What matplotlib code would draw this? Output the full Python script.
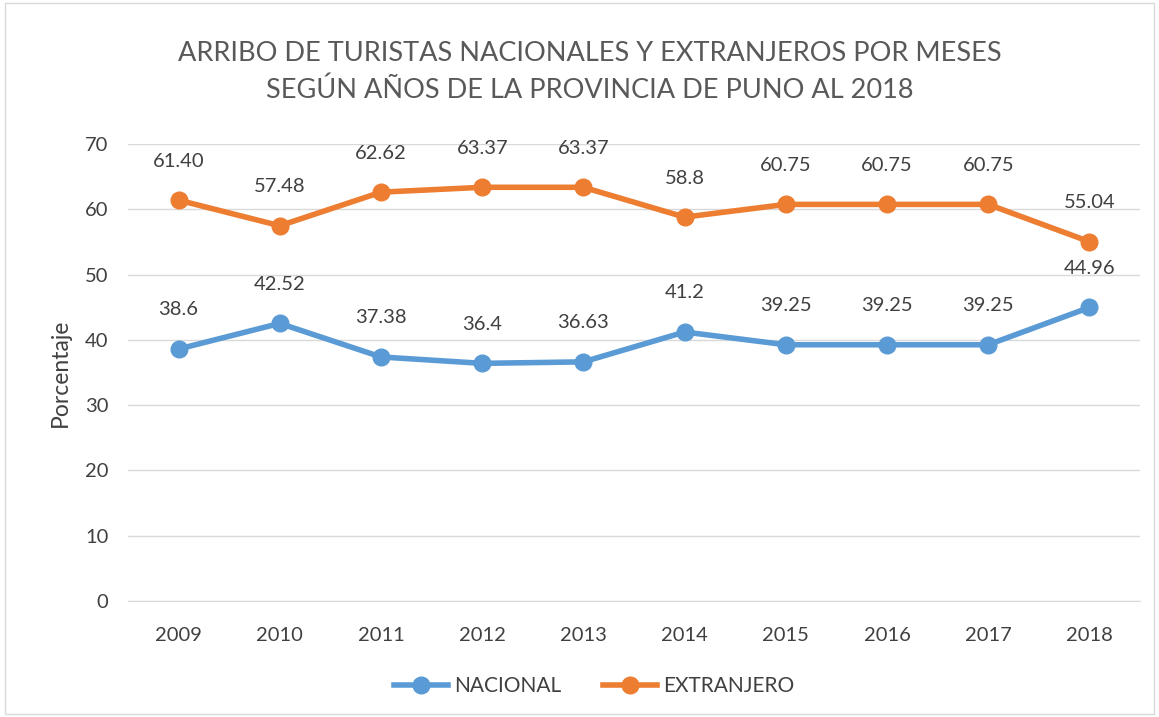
import matplotlib.pyplot as plt
from matplotlib.patches import Rectangle

years = ['2009', '2010', '2011', '2012', '2013', '2014', '2015', '2016', '2017', '2018']
nacional = [38.6, 42.52, 37.38, 36.4, 36.63, 41.2, 39.25, 39.25, 39.25, 44.96]
extranjero = [61.40, 57.48, 62.62, 63.37, 63.37, 58.8, 60.75, 60.75, 60.75, 55.04]
nac_labels = ['38.6', '42.52', '37.38', '36.4', '36.63', '41.2', '39.25', '39.25', '39.25', '44.96']
ext_labels = ['61.40', '57.48', '62.62', '63.37', '63.37', '58.8', '60.75', '60.75', '60.75', '55.04']

plt.rcParams['font.family'] = ['Lato', 'DejaVu Sans']
txt = '#404040'

fig = plt.figure(figsize=(11.59, 7.17), dpi=100)
ax = fig.add_axes([128 / 1159, 1 - 601 / 717, 1012 / 1159, 457 / 717])

x = list(range(len(years)))
ax.plot(x, nacional, color='#5B9BD5', lw=4, marker='o', ms=12, label='NACIONAL', zorder=3)
ax.plot(x, extranjero, color='#ED7D31', lw=4, marker='o', ms=12, label='EXTRANJERO', zorder=3)

for xi, v, s in zip(x, nacional, nac_labels):
    ax.annotate(s, (xi, v), xytext=(0, 22), textcoords='offset points', ha='center',
                va='bottom', fontsize=14.5, color=txt)
for xi, v, s in zip(x, extranjero, ext_labels):
    ax.annotate(s, (xi, v), xytext=(0, 22), textcoords='offset points', ha='center',
                va='bottom', fontsize=14.5, color=txt)

ax.set_xlim(-0.5, 9.5)
ax.set_ylim(0, 70)
ax.set_yticks(range(0, 71, 10))
ax.set_xticks(x)
ax.set_xticklabels(years)
ax.tick_params(axis='both', length=0, labelsize=14.5, colors=txt)
ax.tick_params(axis='x', pad=19)
ax.tick_params(axis='y', pad=14)
ax.grid(axis='y', color='#D9D9D9', lw=1)
ax.set_axisbelow(True)
for side in ['top', 'right', 'left']:
    ax.spines[side].set_visible(False)
ax.spines['bottom'].set_color('#D9D9D9')
ax.set_ylabel('Porcentaje', fontsize=16.5, color=txt, labelpad=10)

fig.text(590 / 1159, 1 - 72 / 717, 'ARRIBO DE TURISTAS NACIONALES Y EXTRANJEROS POR MESES\nSEGÚN AÑOS DE LA PROVINCIA DE PUNO AL 2018',
         ha='center', va='center', fontsize=19.5, color='#595959', linespacing=1.55)

leg = fig.legend(loc='center', bbox_to_anchor=(594 / 1159, 1 - 686 / 717), ncol=2, frameon=False,
                 fontsize=15, handlelength=2.6, columnspacing=2.0, handletextpad=0.3)
for t in leg.get_texts():
    t.set_color(txt)

fig.patches.append(Rectangle((0.004, 0.004), 0.992, 0.992, transform=fig.transFigure,
                             fill=False, edgecolor='#D9D9D9', lw=1))

fig.savefig('out.png', dpi=100)
